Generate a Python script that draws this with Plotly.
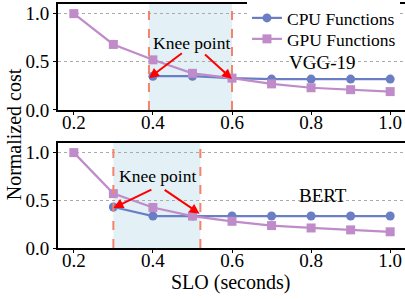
import plotly.graph_objects as go
from plotly.subplots import make_subplots

slo = [0.2, 0.3, 0.4, 0.5, 0.6, 0.7, 0.8, 0.9, 1.0]

# VGG-19 (top)
vgg_cpu_x = [0.4, 0.5, 0.6, 0.7, 0.8, 0.9, 1.0]
vgg_cpu = [0.35, 0.35, 0.33, 0.32, 0.32, 0.32, 0.32]
vgg_gpu = [1.0, 0.68, 0.52, 0.38, 0.33, 0.27, 0.23, 0.21, 0.19]
vgg_knee = [0.39, 0.6]

# BERT (bottom)
bert_cpu_x = [0.3, 0.4, 0.5, 0.6, 0.7, 0.8, 0.9, 1.0]
bert_cpu = [0.43, 0.335, 0.335, 0.335, 0.335, 0.335, 0.335, 0.335]
bert_gpu = [1.0, 0.57, 0.425, 0.335, 0.28, 0.235, 0.21, 0.19, 0.17]
bert_knee = [0.30, 0.52]

x_ticks = [0.2, 0.4, 0.6, 0.8, 1.0]
y_ticks = [0.0, 0.5, 1.0]

CPU_C = "#6b7ec4"
GPU_C = "#bf8cc9"
KNEE_C = "#f4826c"
SHADE_C = "#e3f1f6"
FONT = "Liberation Serif, Times New Roman, DejaVu Serif, serif"

fig = make_subplots(rows=2, cols=1, vertical_spacing=0.135)

for row, (cx, cy, gy, showleg) in enumerate(
    [(vgg_cpu_x, vgg_cpu, vgg_gpu, True), (bert_cpu_x, bert_cpu, bert_gpu, False)], start=1
):
    fig.add_trace(go.Scatter(x=cx, y=cy, mode="lines+markers", name="CPU Functions",
                             line=dict(color=CPU_C, width=2.2),
                             marker=dict(symbol="circle", size=9, color=CPU_C),
                             showlegend=showleg, legend="legend"), row=row, col=1)
    fig.add_trace(go.Scatter(x=slo, y=gy, mode="lines+markers", name="GPU Functions",
                             line=dict(color=GPU_C, width=2.2),
                             marker=dict(symbol="square", size=9, color=GPU_C),
                             showlegend=showleg, legend="legend2"), row=row, col=1)

# shading and knee lines
for (xr, yr, knee) in [("x", "y", vgg_knee), ("x2", "y2", bert_knee)]:
    fig.add_shape(type="rect", xref=xr, yref=yr + " domain", x0=knee[0], x1=knee[1], y0=0, y1=1,
                  fillcolor=SHADE_C, line=dict(width=0), layer="below")
    for k in knee:
        fig.add_shape(type="line", xref=xr, yref=yr + " domain", x0=k, x1=k, y0=0, y1=1,
                      line=dict(color=KNEE_C, width=2, dash="dash"), layer="above")

ann = []
# knee point labels and arrows
ann.append(dict(x=0.497, y=0.70, xref="x", yref="y", text="Knee point", showarrow=False,
                font=dict(family=FONT, size=17.5, color="black")))
ann.append(dict(x=0.39, y=0.33, ax=0.477, ay=0.60, xref="x", yref="y", axref="x", ayref="y",
                text="", showarrow=True, arrowcolor="red", arrowwidth=2, arrowhead=2, arrowsize=1))
ann.append(dict(x=0.60, y=0.32, ax=0.528, ay=0.59, xref="x", yref="y", axref="x", ayref="y",
                text="", showarrow=True, arrowcolor="red", arrowwidth=2, arrowhead=2, arrowsize=1))
ann.append(dict(x=0.412, y=0.76, xref="x2", yref="y2", text="Knee point", showarrow=False,
                font=dict(family=FONT, size=17.5, color="black")))
ann.append(dict(x=0.30, y=0.42, ax=0.40, ay=0.62, xref="x2", yref="y2", axref="x2", ayref="y2",
                text="", showarrow=True, arrowcolor="red", arrowwidth=2, arrowhead=2, arrowsize=1))
ann.append(dict(x=0.518, y=0.36, ax=0.426, ay=0.62, xref="x2", yref="y2", axref="x2", ayref="y2",
                text="", showarrow=True, arrowcolor="red", arrowwidth=2, arrowhead=2, arrowsize=1))
# model labels
ann.append(dict(x=0.83, y=0.49, xref="x", yref="y", text="VGG-19", showarrow=False,
                font=dict(family=FONT, size=19, color="black")))
ann.append(dict(x=0.83, y=0.55, xref="x2", yref="y2", text="BERT", showarrow=False,
                font=dict(family=FONT, size=19, color="black")))
# axis titles
ann.append(dict(x=-0.1257, y=0.467, xref="paper", yref="paper", text="Normalized cost",
                textangle=-90, showarrow=False, xanchor="center", yanchor="middle",
                font=dict(family=FONT, size=20, color="black")))
ann.append(dict(x=0.497, y=-0.143, xref="paper", yref="paper", text="SLO (seconds)",
                showarrow=False, xanchor="center", yanchor="middle",
                font=dict(family=FONT, size=20, color="black")))

fig.update_layout(annotations=ann)

axis_common = dict(showline=True, mirror=True, linecolor="black", linewidth=2,
                   ticks="outside", ticklen=3, tickwidth=1, tickcolor="black",
                   tickfont=dict(family=FONT, size=19, color="black"), zeroline=False)

for r in (1, 2):
    fig.update_xaxes(range=[0.16, 1.04], tickvals=x_ticks, tickformat=".1f",
                     showgrid=False, ticklabelstandoff=-9, row=r, col=1, **axis_common)
    fig.update_yaxes(range=[0, 1.1], tickvals=y_ticks, tickformat=".1f",
                     showgrid=True, gridcolor="#aaaaaa", griddash="dot", gridwidth=1,
                     row=r, col=1, **axis_common)

leg_common = dict(xanchor="left", yanchor="middle",
                  font=dict(family=FONT, size=17.5, color="black"),
                  itemwidth=30, borderwidth=0)
fig.update_layout(
    width=408, height=299,
    margin=dict(l=58, r=0, t=4, b=51),
    plot_bgcolor="white", paper_bgcolor="white",
    font=dict(family=FONT, color="black"),
    legend=dict(x=0.543, y=0.9426, bgcolor="white", **leg_common),
    legend2=dict(x=0.543, y=0.8566, bgcolor="rgba(0,0,0,0)", **leg_common),
)
fig.layout.yaxis.domain = [0.566, 1.0]
fig.layout.yaxis2.domain = [0.0, 0.430]

fig.write_html("out.html", config={"displayModeBar": False},
               post_script="document.body.style.margin='0';document.body.style.padding='0';"
                           "document.body.style.overflow='hidden';")
